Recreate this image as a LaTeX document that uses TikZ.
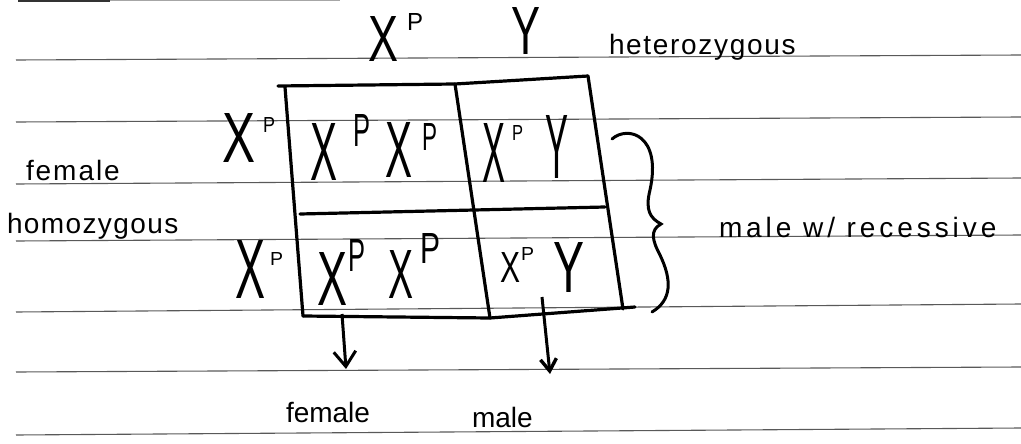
\documentclass[tikz,border=0pt]{standalone}
\usepackage{fontspec}
\setmainfont{Liberation Sans}
\usetikzlibrary{arrows.meta}
\newcommand\gl[3]{\resizebox{#1pt}{#2pt}{#3}}
\newcommand\rs[2]{\raisebox{#1pt}{#2}}
\begin{document}
\begin{tikzpicture}[x=1pt,y=-1pt,
  paper/.style={black!65, line width=1.1pt},
  gridline/.style={black, line width=3.2pt, line cap=round, line join=round},
  gene/.style={anchor=base west, inner sep=0pt, outer sep=0pt},
  word/.style={anchor=base west, inner sep=0pt, outer sep=0pt, font=\fontsize{28}{28}\selectfont},
  arr/.style={black, line width=3pt, -{Straight Barb[length=15pt,width=22pt,line width=3pt]}},
  arrb/.style={black, line width=3pt, -{Straight Barb[length=12pt,width=16pt,line width=3.4pt]}},
]
\useasboundingbox (0,0) rectangle (1021,444);
% lined paper
\draw[black!80, line width=1.6pt] (18,0.9) -- (110,0.9);
\draw[black!35, line width=1pt] (110,0.9) -- (340,0.9);
\draw[paper] (16,60) -- (1021,55);
\draw[paper] (16,122) -- (1021,117);
\draw[paper] (16,184) -- (1021,178);
\draw[paper] (16,241) -- (1021,235);
\draw[paper] (16,312) -- (1021,304);
\draw[paper] (16,372) -- (1021,367);
\draw[paper] (16,435) -- (1021,428);
% Punnett grid
\coordinate (tl) at (278,86);
\coordinate (tm) at (455,84);
\coordinate (tr) at (588,76);
\coordinate (lt) at (285,87);
\coordinate (ml) at (300,214);
\coordinate (mr) at (605,207);
\coordinate (bl) at (303,316);
\coordinate (bm) at (490,318);
\coordinate (br) at (623,309);
\coordinate (be) at (635,307);
\draw[gridline] (tl) -- (tm) -- (tr);
\draw[gridline] (lt) -- (bl);
\draw[gridline] (tm) -- (bm);
\draw[gridline] (tr) -- (br);
\draw[gridline] (ml) -- (mr);
\draw[gridline] (bl) -- (bm) -- (be);
% parent alleles
\node[gene] (tx) at (368,62) {\gl{30}{45}{X}\hspace{9pt}\rs{32}{\gl{16}{17}{P}}};
\node[gene] (ty) at (511,55) {\gl{29}{47}{Y}};
\node[word] (het) at (609,55) {\addfontfeature{LetterSpace=6}heterozygous};
\node[gene] (r1) at (222,162) {\gl{33}{49}{X}\hspace{8pt}\rs{29}{\gl{12}{15}{P}}};
\node[gene] (r2) at (235,298) {\gl{30}{58}{X}\hspace{5pt}\rs{33}{\gl{13}{13}{P}}};
\node[word] (fl) at (26,180) {\addfontfeature{LetterSpace=7}female};
\node[word] (hl) at (7,233) {\addfontfeature{LetterSpace=5}homozygous};
% cells
\node[gene] (c11) at (310,180) {\gl{27}{57}{X}\hspace{16pt}\rs{33}{\gl{17}{32}{P}}\hspace{15pt}\rs{2}{\gl{27}{55}{X}}\hspace{10pt}\rs{30}{\gl{15}{27}{P}}};
\node[gene] (c12) at (482,182) {\gl{23}{59}{X}\hspace{7pt}\rs{42}{\gl{11}{15}{P}}\hspace{22pt}\rs{4}{\gl{23}{63}{Y}}};
\node[gene] (c21) at (317,305) {\gl{30}{53}{X}\hspace{1pt}\rs{33}{\gl{17}{32}{P}}\hspace{23pt}\rs{7}{\gl{25}{48}{X}}\hspace{7pt}\rs{42}{\gl{20}{30}{P}}};
\node[gene] (c22) at (500,282) {\gl{20}{30}{X}\hspace{1pt}\rs{22}{\gl{13}{13}{P}}\hspace{19pt}\rs{-10}{\gl{31}{50}{Y}}};
% brace and label
\draw[black, line width=3pt, line cap=round] (612,139) .. controls (628,125) and (662,135) .. (650,190)
  .. controls (645,210) and (650,218) .. (661,224)
  .. controls (650,230) and (652,240) .. (660,255)
  .. controls (672,280) and (672,300) .. (652,312);
\node[word] (mrec) at (719,237) {\addfontfeature{LetterSpace=14}male w/ recessive};
% arrows and offspring labels
\node[word] (fb) at (286,422) {female};
\node[word] (mb) at (472,427) {male};
\coordinate (a1s) at (342,314);
\coordinate (a1e) at (346,369);
\coordinate (a2s) at (542,297);
\coordinate (a2e) at (550,374);
\draw[arr] (a1s) -- (a1e);
\draw[arrb] (a2s) -- (a2e);
\end{tikzpicture}
\end{document}
